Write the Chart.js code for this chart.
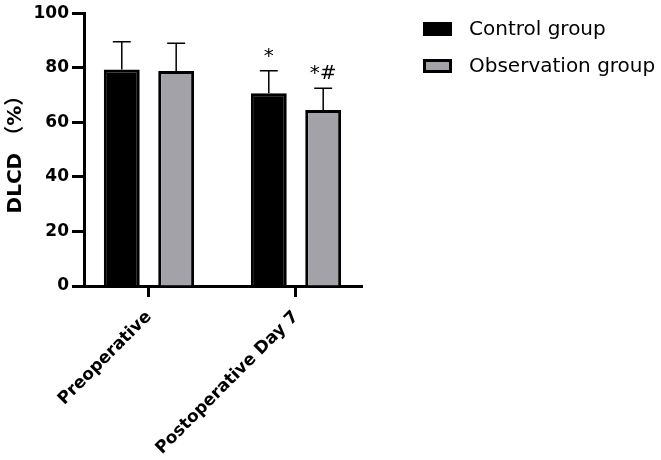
<!DOCTYPE html>
<html>
<head>
<meta charset="utf-8">
<script src="https://cdn.jsdelivr.net/npm/chart.js@4.4.1/dist/chart.umd.min.js"></script>
<style>
    html, body { margin: 0; padding: 0; background: #fff; }
    #wrap { width: 661px; height: 460px; position: relative; }
</style>
</head>
<body>
<div id="wrap"><canvas id="chart"></canvas></div>
<script>
/* DLCD before surgery and on day 7 after, two groups, mean + SD */

const CATEGORIES = ['Preoperative', 'Postoperative Day 7'];
const CONTROL_MEAN = [79.4, 70.7];
const CONTROL_SD = [10.1, 8.2];
const OBSERVATION_MEAN = [78.8, 64.5];
const OBSERVATION_SD = [10.2, 8.0];
const CONTROL_MARKS = ['', '*'];
const OBSERVATION_MARKS = ['', '*#'];
const Y_TICKS = [0, 20, 40, 60, 80, 100];

const FONT = '"DejaVu Sans", "Noto Sans CJK SC"';
const GREY = '#a3a2a8';

const toPoints = (values) => values.map((y, x) => ({ x, y }));

// upper error bar (SD) with cap, plus significance marks above it
const errorBars = {
    id: 'errorBars',
    afterDatasetsDraw(chart) {
        const { ctx } = chart;
        const yScale = chart.scales.y;
        ctx.save();
        ctx.strokeStyle = '#000';
        ctx.fillStyle = '#000';
        ctx.lineWidth = 1.5;
        ctx.font = `20px ${FONT}`;
        ctx.textAlign = 'center';
        ctx.textBaseline = 'alphabetic';
        chart.data.datasets.forEach((ds, di) => {
            chart.getDatasetMeta(di).data.forEach((bar, i) => {
                const top = yScale.getPixelForValue(ds.data[i].y + ds.sd[i]);
                const half = bar.width / 4;
                ctx.beginPath();
                ctx.moveTo(bar.x, bar.y);
                ctx.lineTo(bar.x, top);
                ctx.moveTo(bar.x - half, top);
                ctx.lineTo(bar.x + half, top);
                ctx.stroke();
                if (ds.marks[i]) {
                    ctx.fillText(ds.marks[i], bar.x, top - 9);
                }
            });
        });
        ctx.restore();
    },
};

// legend to the right of the plot, like the Prism original
const sideLegend = {
    id: 'sideLegend',
    afterDraw(chart) {
        const { ctx, chartArea } = chart;
        const x = chartArea.right + 61;
        ctx.save();
        ctx.font = `20px ${FONT}`;
        ctx.textBaseline = 'middle';
        chart.data.datasets.forEach((ds, i) => {
            const y = 22 + i * 37;
            ctx.fillStyle = ds.borderColor;
            ctx.fillRect(x, y, 29, 14);
            ctx.fillStyle = ds.backgroundColor;
            ctx.fillRect(x + 3, y + 3, 23, 8);
            ctx.fillStyle = '#000';
            ctx.fillText(ds.label, x + 46, y + 8);
        });
        ctx.restore();
    },
};

const barStyle = {
    borderColor: '#000',
    borderWidth: 3,
    categoryPercentage: 0.74,
    barPercentage: 0.66,
};

new Chart(document.getElementById('chart'), {
    type: 'bar',
    data: {
        datasets: [
            {
                ...barStyle,
                label: 'Control group',
                data: toPoints(CONTROL_MEAN),
                sd: CONTROL_SD,
                marks: CONTROL_MARKS,
                backgroundColor: '#000',
            },
            {
                ...barStyle,
                label: 'Observation group',
                data: toPoints(OBSERVATION_MEAN),
                sd: OBSERVATION_SD,
                marks: OBSERVATION_MARKS,
                backgroundColor: GREY,
            },
        ],
    },
    options: {
        animation: false,
        responsive: true,
        maintainAspectRatio: false,
        layout: { padding: { top: 11, right: 299, bottom: 0, left: 0 } },
        plugins: { legend: { display: false }, tooltip: { enabled: false } },
        scales: {
            x: {
                type: 'linear',
                min: -0.442,
                max: 1.449,
                bounds: 'data',
                offset: false,
                afterBuildTicks: (s) => { s.ticks = CATEGORIES.map((_, i) => ({ value: i })); },
                afterFit: (s) => { s.height = 174; },
                grid: { offset: false, drawOnChartArea: false, tickLength: 11, tickWidth: 3, tickColor: '#000' },
                border: { color: '#000', width: 3 },
                ticks: {
                    callback: (v) => CATEGORIES[v],
                    minRotation: 45,
                    maxRotation: 45,
                    padding: 10,
                    color: '#000',
                    font: { family: FONT, weight: 'bold', size: 17 },
                },
            },
            y: {
                min: 0,
                max: 100,
                afterBuildTicks: (s) => { s.ticks = Y_TICKS.map((v) => ({ value: v })); },
                afterFit: (s) => { s.width = 84; },
                grid: { drawOnChartArea: false, tickLength: 12, tickWidth: 3, tickColor: '#000' },
                border: { color: '#000', width: 3 },
                ticks: {
                    padding: 3,
                    color: '#000',
                    font: { family: FONT, weight: 'bold', size: 17 },
                },
                title: {
                    display: true,
                    text: 'DLCD （%）',
                    color: '#000',
                    padding: { top: 4, bottom: 0 },
                    font: { family: FONT, weight: 'bold', size: 20 },
                },
            },
        },
    },
    plugins: [errorBars, sideLegend],
});
</script>
</body>
</html>
